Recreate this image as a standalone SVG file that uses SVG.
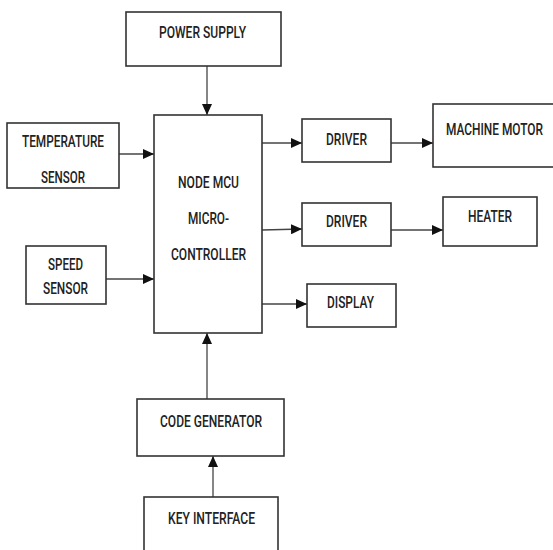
<svg xmlns="http://www.w3.org/2000/svg" width="553" height="550" viewBox="0 0 553 550">
<style>
.box{fill:#fff;stroke:#333;stroke-width:1.6}
.t{font-family:Roboto,"Liberation Sans",sans-serif;font-size:17px;font-weight:500;fill:#222;text-anchor:middle}
.c{fill:none;stroke:#444;stroke-width:1.3}
</style>
<defs>
<marker id="ah" markerUnits="userSpaceOnUse" markerWidth="12" markerHeight="10" refX="11" refY="5" orient="auto">
<path d="M0,0 L11,5 L0,10 Z" fill="#111"/>
</marker>
</defs>
<rect width="553" height="550" fill="#fff"/>
<g id="connectors">
<line class="c" x1="207" y1="66" x2="207" y2="115" marker-end="url(#ah)"/>
<line class="c" x1="119" y1="154" x2="154" y2="154" marker-end="url(#ah)"/>
<line class="c" x1="106" y1="279" x2="154" y2="279" marker-end="url(#ah)"/>
<line class="c" x1="262" y1="143" x2="302" y2="143" marker-end="url(#ah)"/>
<line class="c" x1="391" y1="143" x2="433" y2="143" marker-end="url(#ah)"/>
<line class="c" x1="262" y1="230" x2="302" y2="229" marker-end="url(#ah)"/>
<line class="c" x1="391" y1="230" x2="443" y2="230" marker-end="url(#ah)"/>
<line class="c" x1="262" y1="304" x2="307" y2="304" marker-end="url(#ah)"/>
<line class="c" x1="207" y1="399" x2="207" y2="333" marker-end="url(#ah)"/>
<line class="c" x1="213" y1="497" x2="213" y2="456" marker-end="url(#ah)"/>
</g>
<g id="power">
<rect class="box" x="126" y="12" width="155" height="54"/>
<text class="t" x="202.5" y="38" textLength="87" lengthAdjust="spacingAndGlyphs">POWER SUPPLY</text>
</g>
<g id="temp">
<rect class="box" x="7" y="123" width="112" height="65"/>
<text class="t" x="63" y="147" textLength="82" lengthAdjust="spacingAndGlyphs">TEMPERATURE</text>
<text class="t" x="63" y="183" textLength="44" lengthAdjust="spacingAndGlyphs">SENSOR</text>
</g>
<g id="mcu">
<rect class="box" x="154" y="115" width="108" height="218"/>
<text class="t" x="208.5" y="188" textLength="61" lengthAdjust="spacingAndGlyphs">NODE MCU</text>
<text class="t" x="208.5" y="224" textLength="41" lengthAdjust="spacingAndGlyphs">MICRO-</text>
<text class="t" x="208.5" y="260" textLength="75" lengthAdjust="spacingAndGlyphs">CONTROLLER</text>
</g>
<g id="speed">
<rect class="box" x="26" y="246" width="80" height="58"/>
<text class="t" x="65.5" y="270" textLength="35" lengthAdjust="spacingAndGlyphs">SPEED</text>
<text class="t" x="65.5" y="294" textLength="45" lengthAdjust="spacingAndGlyphs">SENSOR</text>
</g>
<g id="driver1">
<rect class="box" x="302" y="119" width="89" height="43"/>
<text class="t" x="346.5" y="145" textLength="41" lengthAdjust="spacingAndGlyphs">DRIVER</text>
</g>
<g id="motor">
<rect class="box" x="433" y="104" width="121" height="63"/>
<text class="t" transform="translate(494.5 135) scale(0.7 1)" x="0" y="0">MACHINE MOTOR</text>
</g>
<g id="driver2">
<rect class="box" x="302" y="203" width="89" height="43"/>
<text class="t" x="346.5" y="227" textLength="41" lengthAdjust="spacingAndGlyphs">DRIVER</text>
</g>
<g id="heater">
<rect class="box" x="443" y="197" width="94" height="49"/>
<text class="t" x="490" y="222" textLength="44" lengthAdjust="spacingAndGlyphs">HEATER</text>
</g>
<g id="display">
<rect class="box" x="307" y="284" width="89" height="43"/>
<text class="t" x="350.5" y="308" textLength="47" lengthAdjust="spacingAndGlyphs">DISPLAY</text>
</g>
<g id="codegen">
<rect class="box" x="137" y="399" width="147" height="57"/>
<text class="t" x="211" y="427" textLength="102" lengthAdjust="spacingAndGlyphs">CODE GENERATOR</text>
</g>
<g id="key">
<rect class="box" x="144" y="497" width="134" height="60"/>
<text class="t" x="211.5" y="524" textLength="87" lengthAdjust="spacingAndGlyphs">KEY INTERFACE</text>
</g>
</svg>
